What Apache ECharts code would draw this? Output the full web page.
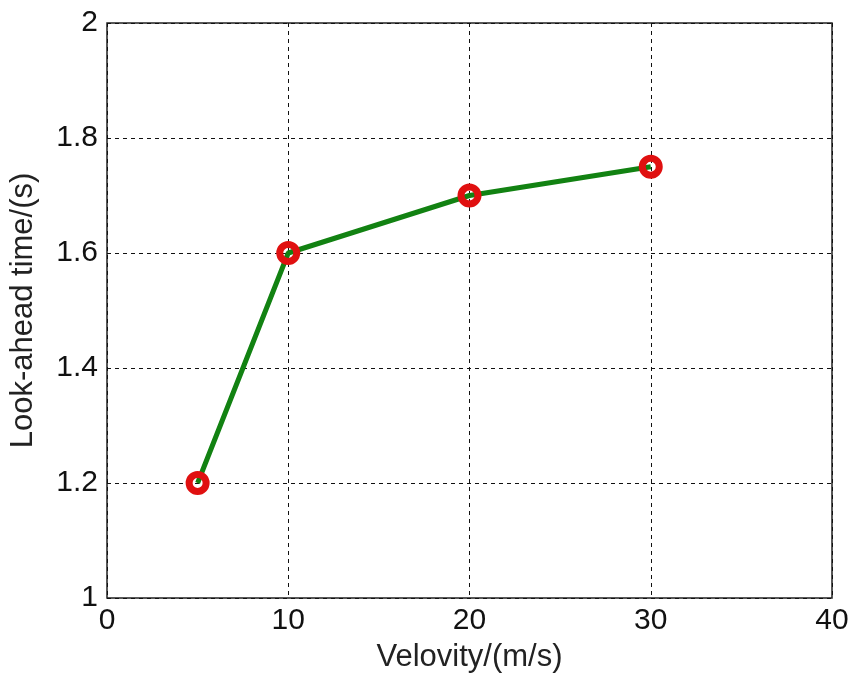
<!DOCTYPE html>
<html><head><meta charset="utf-8">
<script src="https://cdn.jsdelivr.net/npm/echarts@6/dist/echarts.min.js"></script>
<style>html,body{margin:0;padding:0;background:#fff}#c{width:852px;height:681px}</style>
</head><body><div id="c"></div>
<script>
const velocity = [5, 10, 20, 30];
const lookAhead = [1.2, 1.6, 1.7, 1.75];
const xTitle = 'Velovity/(m/s)';
const yTitle = 'Look-ahead time/(s)';

const chart = echarts.init(document.getElementById('c'));
const font = 'Liberation Sans, Arial, sans-serif';
chart.setOption({
  animation: false,
  backgroundColor: '#fff',
  grid: {left: 106, top: 23, right: 20, bottom: 83, show: true, borderColor: '#222', borderWidth: 1.5, backgroundColor: 'transparent'},
  xAxis: {
    type: 'value', min: 0, max: 40, interval: 10,
    name: xTitle, nameLocation: 'middle', nameGap: 44,
    nameTextStyle: {fontSize: 31, color: '#222', fontFamily: font},
    axisLine: {show: false}, axisTick: {show: false},
    axisLabel: {fontSize: 30, color: '#111', margin: 8, fontFamily: font},
    splitLine: {show: true, lineStyle: {color: '#111', type: [4, 4], width: 1}}
  },
  yAxis: {
    type: 'value', min: 1, max: 2, interval: 0.2,
    name: yTitle, nameLocation: 'middle', nameGap: 68,
    nameTextStyle: {fontSize: 31, color: '#222', fontFamily: font},
    axisLine: {show: false}, axisTick: {show: false},
    axisLabel: {fontSize: 30, color: '#111', margin: 9, fontFamily: font,
      formatter: v => (Math.round(v*10)/10).toString()},
    splitLine: {show: true, lineStyle: {color: '#111', type: [4, 4], width: 1}}
  },
  series: [{
    type: 'line',
    data: velocity.map((v, i) => [v, lookAhead[i]]),
    lineStyle: {color: '#128212', width: 5},
    symbol: 'circle', symbolSize: 17,
    itemStyle: {color: 'rgba(0,0,0,0)', borderColor: '#e01010', borderWidth: 7},
    z: 3
  }]
});
</script></body></html>
